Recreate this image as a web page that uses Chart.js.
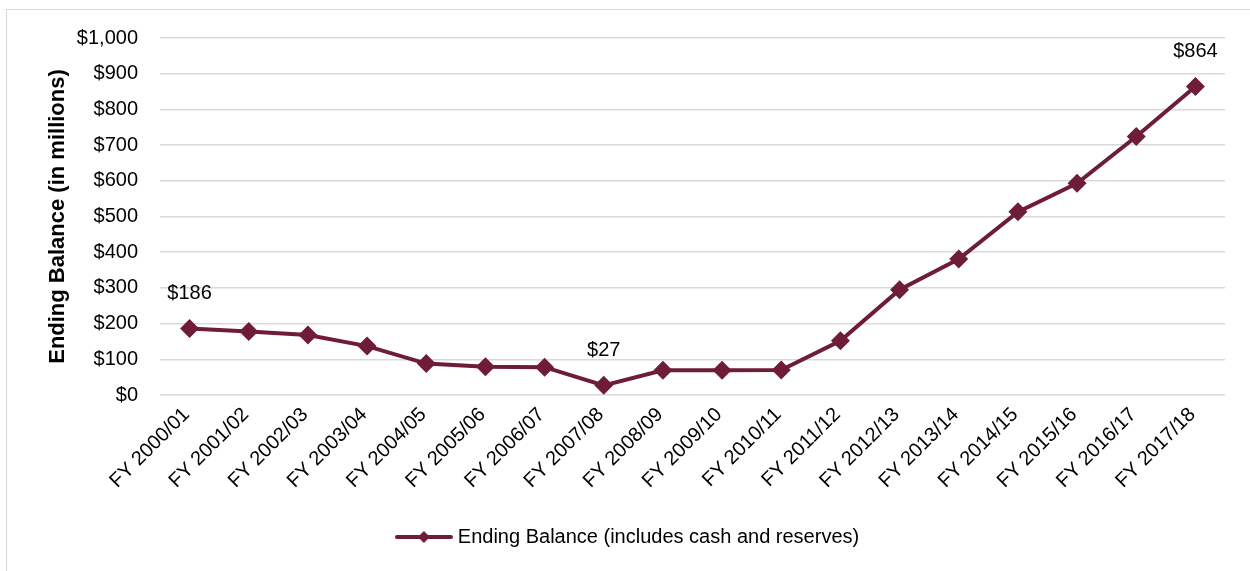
<!DOCTYPE html>
<html>
<head>
<meta charset="utf-8">
<script src="https://cdn.jsdelivr.net/npm/chart.js@4"></script>
<style>
  html, body { margin: 0; padding: 0; background: #fff; }
  #wrap { position: relative; width: 1250px; height: 571px; overflow: hidden; }
  #frame { position: absolute; left: 6px; top: 9px; width: 1300px; height: 600px; border: 1.5px solid #d9d9d9; box-sizing: border-box; }
  #chart { position: absolute; left: 0; top: 0; }
</style>
</head>
<body>
<div id="wrap">
  <div id="frame"></div>
  <canvas id="chart" width="1250" height="571"></canvas>
</div>
<script>
// Ending balance by fiscal year, $ millions
const fiscalYears = [
    'FY 2000/01', 'FY 2001/02', 'FY 2002/03', 'FY 2003/04', 'FY 2004/05', 'FY 2005/06',
    'FY 2006/07', 'FY 2007/08', 'FY 2008/09', 'FY 2009/10', 'FY 2010/11', 'FY 2011/12',
    'FY 2012/13', 'FY 2013/14', 'FY 2014/15', 'FY 2015/16', 'FY 2016/17', 'FY 2017/18',
];
const endingBalance = [186, 178, 168, 137, 88, 79, 78, 27, 69, 69, 70, 152, 295, 381, 513, 593, 724, 864];
const labeledPoints = [0, 7, 17];
const yTicks = [0, 100, 200, 300, 400, 500, 600, 700, 800, 900, 1000];

const FONT = '"Liberation Sans", Arial, sans-serif';
const MAROON = '#6e1c39';
const GRID = '#d9d9d9';

// legend swatch: short line with a diamond in the middle
function legendSwatch() {
    const c = document.createElement('canvas');
    c.width = 58; c.height = 14;
    const g = c.getContext('2d');
    g.strokeStyle = MAROON;
    g.lineWidth = 4;
    g.lineCap = 'round';
    g.beginPath(); g.moveTo(2, 7); g.lineTo(56, 7); g.stroke();
    g.fillStyle = MAROON;
    g.beginPath();
    g.moveTo(29, 1); g.lineTo(35, 7); g.lineTo(29, 13); g.lineTo(23, 7); g.closePath();
    g.fill();
    return c;
}

// "$186" style labels above selected points
const valueLabels = {
    id: 'valueLabels',
    afterDatasetsDraw(chart) {
        const ctx = chart.ctx;
        const meta = chart.getDatasetMeta(0);
        ctx.save();
        ctx.font = '20px ' + FONT;
        ctx.fillStyle = '#000';
        ctx.textAlign = 'center';
        ctx.textBaseline = 'middle';
        labeledPoints.forEach(i => {
            const pt = meta.data[i];
            ctx.fillText('$' + endingBalance[i].toLocaleString('en-US'), pt.x, pt.y - 35);
        });
        ctx.restore();
    },
};

new Chart(document.getElementById('chart'), {
    type: 'line',
    data: {
        labels: fiscalYears,
        datasets: [{
            label: 'Ending Balance (includes cash and reserves)',
            data: endingBalance,
            borderColor: MAROON,
            backgroundColor: MAROON,
            borderWidth: 4,
            tension: 0,
            pointStyle: 'rectRot',
            pointRadius: 9.5,
            pointBorderWidth: 0,
            pointBackgroundColor: MAROON,
        }],
    },
    options: {
        responsive: false,
        animation: false,
        layout: { padding: { left: 34, top: 38, right: 25, bottom: 14 } },
        plugins: {
            legend: {
                position: 'bottom',
                labels: {
                    usePointStyle: true,
                    pointStyle: legendSwatch(),
                    pointStyleWidth: 48,
                    boxHeight: 14,
                    color: '#000',
                    padding: 10,
                    font: { family: FONT, size: 20 },
                },
            },
            tooltip: { enabled: false },
        },
        scales: {
            x: {
                offset: true,
                grid: { display: false },
                border: { display: false },
                ticks: {
                    color: '#000',
                    font: { family: FONT, size: 20 },
                    minRotation: 45,
                    maxRotation: 45,
                    padding: 0,
                    labelOffset: -3,
                },
                afterFit: (scale) => { scale.height = 122; },
            },
            y: {
                min: 0,
                max: 1000,
                afterBuildTicks: (scale) => { scale.ticks = yTicks.map(v => ({ value: v })); },
                grid: { color: GRID, lineWidth: 1.5, drawTicks: false },
                border: { display: false },
                ticks: {
                    color: '#000',
                    font: { family: FONT, size: 20 },
                    padding: 22,
                    callback: (v) => '$' + v.toLocaleString('en-US'),
                },
                title: {
                    display: true,
                    text: 'Ending Balance (in millions)',
                    color: '#000',
                    font: { family: FONT, size: 22, weight: 'bold' },
                    padding: { top: 11, bottom: 0 },
                },
                afterFit: (scale) => { scale.width = 126; },
            },
        },
    },
    plugins: [valueLabels],
});
</script>
</body>
</html>
